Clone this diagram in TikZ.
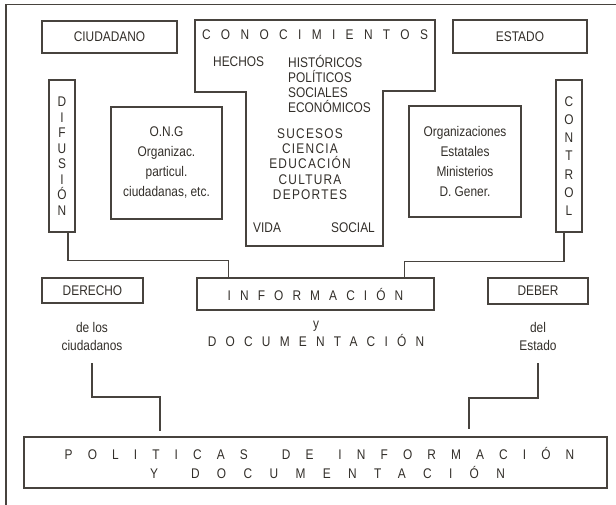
\documentclass[tikz,border=0pt]{standalone}
\usepackage{fontspec}
\setmainfont{Liberation Sans}[FakeStretch=0.85]
\usetikzlibrary{positioning}
\def\knowshape{(195,20) -- (435,20) -- (435,91) -- (383,91) -- (383,246) -- (246,246) -- (246,92) -- (195,92) -- cycle}
\definecolor{ink}{RGB}{50,46,41}
\colorlet{box edge}{ink!90}
\newcommand{\spaced}[2]{{\addfontfeature{LetterSpace=#1}#2}}
\tikzset{framed/.style={draw=box edge, line width=1.1pt, inner sep=0pt},
    caption/.style={text=ink, inner sep=0pt, align=center, font=\fontsize{14}{18}\selectfont},
    link/.style={draw=box edge, line width=1.1pt}}

\begin{document}
\begin{tikzpicture}[x=1pt, y=-1pt]
    \useasboundingbox (0,0) rectangle (616,505);
    % outer frame, only top and left
    \draw[link] (616,4.5) -- (6,4.5) -- (6,505);

    \node[framed, caption, minimum width=135pt, minimum height=32pt] (ciud) at (109.5,37) {CIUDADANO};
    \node[framed, caption, minimum width=134pt, minimum height=33pt] (est) at (520,36.5) {ESTADO};
    \node[framed, caption, minimum width=26pt, minimum height=152pt,
          font=\fontsize{14}{15.5}\selectfont] (dif) at (62,156) {D\\I\\F\\U\\S\\I\\Ó\\N};
    \node[framed, caption, minimum width=26pt, minimum height=152pt,
          font=\fontsize{14}{18.2}\selectfont] (ctl) at (569,156) {C\\O\\N\\T\\R\\O\\L};
    \node[framed, caption, minimum width=111pt, minimum height=112pt,
          font=\fontsize{14}{20}\selectfont] (ong) at (166.5,163) {O.N.G\\Organizac.\\particul.\\ciudadanas, etc.};
    \node[framed, caption, minimum width=112pt, minimum height=111pt,
          font=\fontsize{14}{20}\selectfont] (org) at (465,161.5) {Organizaciones\\Estatales\\Ministerios\\D. Gener.};

    % conocimientos
    \draw[link] \knowshape;
    \node[caption] (know) at (315,35) {\spaced{74}{CONOCIMIENTOS}};
    \node[caption, anchor=west] (hech) at (213,62) {HECHOS};
    \node[caption, anchor=west, align=left, font=\fontsize{14}{15}\selectfont] (kinds) at (288,84.5)
        {HISTÓRICOS\\POLÍTICOS\\SOCIALES\\ECONÓMICOS};
    \node[caption, font=\fontsize{14}{15.3}\selectfont] (fields) at (310,164)
        {\spaced{9}{SUCESOS}\\\spaced{9}{CIENCIA}\\\spaced{9}{EDUCACIÓN}\\\spaced{9}{CULTURA}\\\spaced{9}{DEPORTES}};
    \node[caption, anchor=west] (vida) at (253,228) {VIDA};
    \node[caption, anchor=east] (soc) at (375,228) {SOCIAL};

    % informacion
    \node[framed, caption, minimum width=237pt, minimum height=32pt] (info) at (315.5,294) {\spaced{65}{INFORMACIÓN}};
    \node[caption] (doc) at (316,334) {y\\\spaced{66}{DOCUMENTACIÓN}};
    \node[framed, caption, minimum width=101pt, minimum height=25pt] (der) at (92.5,290.5) {DERECHO};
    \node[framed, caption, minimum width=100pt, minimum height=26pt] (deb) at (538,291) {DEBER};
    \node[caption] (citz) at (92,336) {de los\\ciudadanos};
    \node[caption] (stat) at (538,336.5) {del\\Estado};

    \node[framed, caption, minimum width=583pt, minimum height=51pt,
          font=\fontsize{14}{19}\selectfont] (pol) at (315.5,462.5)
        {\hspace{8pt}\spaced{108}{POLITICAS}\hspace{34pt}\spaced{108}{DE}\hspace{25pt}\spaced{108}{INFORMACIÓN}\\
         \hspace{24pt}\spaced{124}{Y}\hspace{33pt}\spaced{124}{DOCUMENTACIÓN}};

    % connectors
    \draw[link] ([xshift=6pt]dif.south) -- ++(0,28) -| ([xshift=32pt]info.north west);
    \draw[link] ([xshift=-5pt]ctl.south) -- ++(0,29) -| ([xshift=-30pt]info.north east);
    \draw[link, shorten >=5pt] (citz.south |- 0,363) -- (citz.south |- 0,397) -| ([xshift=-155.5pt]pol.north);
    \draw[link, shorten >=7pt] (stat.south |- 0,363) -- (stat.south |- 0,398) -| ([xshift=153.5pt]pol.north);
\end{tikzpicture}
\end{document}
